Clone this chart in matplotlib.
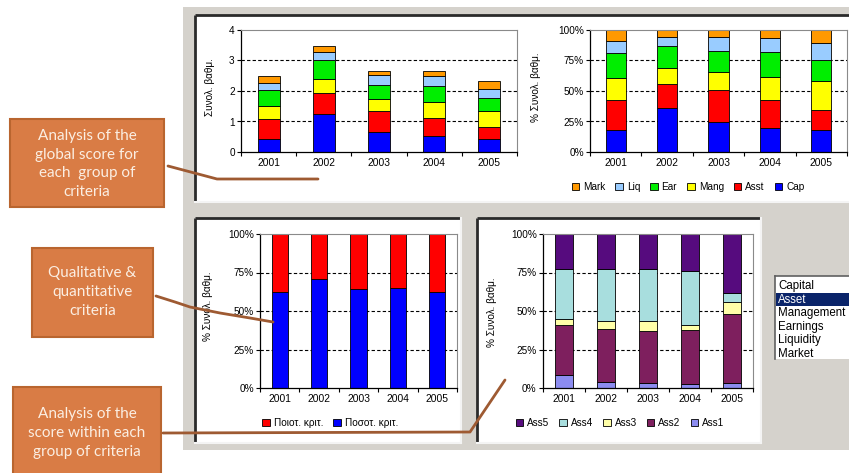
import numpy as np
import matplotlib.pyplot as plt
from matplotlib.patches import Rectangle

plt.rcParams['font.family'] = ['Liberation Sans', 'DejaVu Sans']

W, H = 849, 473

years = ['2001', '2002', '2003', '2004', '2005']

# Global score per group of criteria (segments of each stacked bar)
cap  = [0.44, 1.26, 0.66, 0.52, 0.42]
asst = [0.63, 0.66, 0.70, 0.61, 0.39]
mang = [0.45, 0.47, 0.38, 0.50, 0.55]
ear  = [0.51, 0.61, 0.46, 0.55, 0.40]
liq  = [0.24, 0.27, 0.31, 0.30, 0.32]
mark = [0.22, 0.19, 0.16, 0.17, 0.25]
group_names = ['Cap', 'Asst', 'Mang', 'Ear', 'Liq', 'Mark']
group_colors = ['#0000ff', '#ff0000', '#ffff00', '#00ee00', '#99ccff', '#ff9900']

# Quantitative vs qualitative share (%)
quant = [62.6, 70.6, 64.4, 65.0, 62.4]
qual  = [37.4, 29.4, 35.6, 35.0, 37.6]
qq_names = ['Ποσοτ. κριτ.', 'Ποιοτ. κριτ.']
qq_colors = ['#0000ff', '#ff0000']

# Asset sub-criteria share (%)
ass1 = [8.2, 3.7, 3.2, 2.8, 3.2]
ass2 = [32.8, 34.3, 33.7, 34.6, 45.0]
ass3 = [3.5, 5.2, 6.9, 3.6, 7.5]
ass4 = [33.0, 33.9, 33.3, 35.0, 6.3]
ass5 = [22.5, 22.9, 22.9, 24.0, 38.0]
ass_names = ['Ass1', 'Ass2', 'Ass3', 'Ass4', 'Ass5']
ass_colors = ['#8c8cf0', '#7e1f5e', '#ffffa8', '#a8dede', '#560b7e']

score_ticks = [0, 1, 2, 3, 4]
score_ticklabels = ['0', '1', '2', '3', '4']
pct_ticks = [0, 25, 50, 75, 100]
pct_ticklabels = ['0%', '25%', '50%', '75%', '100%']

list_items = ['Capital', 'Asset', 'Management', 'Earnings', 'Liquidity', 'Market']
selected_item = 'Asset'

callouts = [
    ('Analysis of the\nglobal score for\neach  group of\ncriteria', (10, 119, 164, 207), 164),
    ('Qualitative &\nquantitative\ncriteria', (32, 248, 153, 337), 292),
    ('Analysis of the\nscore within each\ngroup of criteria', (13, 387, 161, 480), 433),
]


def frac(l, t, r, b):
    return [l / W, 1 - b / H, (r - l) / W, (b - t) / H]


fig = plt.figure(figsize=(W / 100, H / 100), dpi=100)
fig.patch.set_facecolor('white')

# background: grey dialog and white chart panels
bg = fig.add_axes([0, 0, 1, 1], zorder=0)
bg.set_xlim(0, W)
bg.set_ylim(H, 0)
bg.axis('off')
bg.add_patch(Rectangle((183, 7), W - 183, 443, facecolor='#d5d2cc', edgecolor='none'))
for (l, t, r, b) in [(195, 15, 860, 202), (195, 218, 461, 443), (477, 218, 761, 443)]:
    bg.add_patch(Rectangle((l, t), r - l, b - t, facecolor='white', edgecolor='none'))
    bg.plot([l, min(r, W)], [t, t], color='#2a2a2a', lw=2, solid_capstyle='butt')
    bg.plot([l, l], [t, b], color='#2a2a2a', lw=2, solid_capstyle='butt')
    if r < W:
        bg.plot([r, r], [t, b], color='#f4f4f4', lw=1.5)
    bg.plot([l, min(r, W)], [b, b], color='#f4f4f4', lw=1.5)

# list box
bg.add_patch(Rectangle((775, 276), 80, 83, facecolor='white', edgecolor='none'))
bg.plot([775, W], [276, 276], color='#606060', lw=1.2)
bg.plot([775, 775], [276, 359], color='#606060', lw=1.2)
row_h = 13.6
for i, name in enumerate(list_items):
    yc = 286 + i * row_h
    if name == selected_item:
        bg.add_patch(Rectangle((776, yc - row_h / 2), 80, row_h,
                               facecolor='#0a246a', edgecolor='none'))
        col = 'white'
    else:
        col = 'black'
    bg.text(778, yc, name, fontsize=8.3, color=col, va='center', ha='left',
            family=['Liberation Sans', 'DejaVu Sans'])

# callout boxes
for text, (l, t, r, b), yc in callouts:
    bg.add_patch(Rectangle((l, t), r - l, b - t, facecolor='#d97c45',
                           edgecolor='#b9652f', lw=1.5))
    bg.text((l + r) / 2, yc, text, ha='center', va='center', color='#fbeee2',
            fontsize=11, family=['Lato', 'DejaVu Sans'], linespacing=1.42)


def style_axes(ax, ylim, ticks, ticklabels, ylabel, label_x, label_y):
    ax.set_xlim(-0.5, 4.5)
    ax.set_ylim(*ylim)
    ax.set_facecolor('white')
    for s in ['top', 'right']:
        ax.spines[s].set_color('#8a8a8a')
        ax.spines[s].set_linewidth(0.8)
    for s in ['left', 'bottom']:
        ax.spines[s].set_color('black')
        ax.spines[s].set_linewidth(0.9)
    ax.set_yticks(ticks)
    ax.set_yticklabels(ticklabels)
    ax.set_xticks(range(len(years)))
    ax.set_xticklabels(years)
    ax.set_xticks(np.arange(-0.5, len(years)), minor=True)
    ax.tick_params(axis='x', which='major', length=0, labelsize=7.4, pad=4)
    ax.tick_params(axis='x', which='minor', length=3, width=0.8, direction='out')
    ax.tick_params(axis='y', length=3, width=0.8, labelsize=7.2, pad=1.5)
    for v in ticks[1:-1]:
        ax.axhline(v, color='black', lw=0.8, ls=(0, (3, 2)), zorder=0.5)
    ax.set_ylabel(ylabel, fontsize=7.2)
    ax.yaxis.set_label_coords(label_x, label_y)


def stacked(ax, series, colors, names, width):
    x = np.arange(len(years))
    bottom = np.zeros(len(years))
    handles = []
    for vals, c, n in zip(series, colors, names):
        vals = np.asarray(vals, dtype=float)
        h = ax.bar(x, vals, width, bottom=bottom, color=c, edgecolor='black',
                   linewidth=0.6, label=n, zorder=2)
        handles.append(h)
        bottom = bottom + vals
    return handles


def legend(ax, handles, names, cx, cy, spacing):
    fig.legend(handles[::-1], names[::-1], loc='center',
               bbox_to_anchor=(cx / W, 1 - cy / H), ncol=len(names), frameon=False,
               fontsize=7.2, handlelength=0.75, handleheight=0.75, handletextpad=0.4,
               columnspacing=spacing, borderpad=0)


groups = [cap, asst, mang, ear, liq, mark]

# top left: absolute scores
ax1 = fig.add_axes(frac(241, 30, 517, 152), zorder=1)
stacked(ax1, groups, group_colors, group_names, 0.4)
style_axes(ax1, (0, 4), score_ticks, score_ticklabels, 'Συνολ. βαθμ.', -0.094, 0.53)

# top right: shares of the total score
ax2 = fig.add_axes(frac(590, 30, 847, 152), zorder=1)
g = np.array(groups, dtype=float)
g_pct = g / g.sum(axis=0) * 100
h2 = stacked(ax2, g_pct, group_colors, group_names, 0.39)
style_axes(ax2, (0, 100), pct_ticks, pct_ticklabels, '% Συνολ. βαθμ.', -0.19, 0.53)
legend(ax2, h2, group_names, 688, 187, 1.0)

# bottom left: quantitative vs qualitative
ax3 = fig.add_axes(frac(260, 234, 457, 388), zorder=1)
h3 = stacked(ax3, [quant, qual], qq_colors, qq_names, 0.41)
style_axes(ax3, (0, 100), pct_ticks, pct_ticklabels, '% Συνολ. βαθμ.', -0.24, 0.53)
legend(ax3, h3, qq_names, 330, 423, 1.0)

# bottom right: asset sub-criteria
ax4 = fig.add_axes(frac(543, 234, 753, 388), zorder=1)
h4 = stacked(ax4, [ass1, ass2, ass3, ass4, ass5], ass_colors, ass_names, 0.41)
style_axes(ax4, (0, 100), pct_ticks, pct_ticklabels, '% Συνολ. βαθμ.', -0.22, 0.49)
legend(ax4, h4, ass_names, 620, 423, 1.0)

# connector lines from the callouts
ov = fig.add_axes([0, 0, 1, 1], zorder=10)
ov.set_xlim(0, W)
ov.set_ylim(H, 0)
ov.axis('off')
ov.patch.set_alpha(0)
line_kw = dict(color='#9e5a32', lw=2, solid_capstyle='round', solid_joinstyle='round')
ov.plot([168, 217, 318], [166, 179, 179], **line_kw)
ov.plot([156, 175, 190, 220, 250, 273], [296, 302, 307, 313, 318, 322], **line_kw)
ov.plot([163, 470, 505], [433, 432, 380], **line_kw)

fig.savefig('out.png', dpi=100)
